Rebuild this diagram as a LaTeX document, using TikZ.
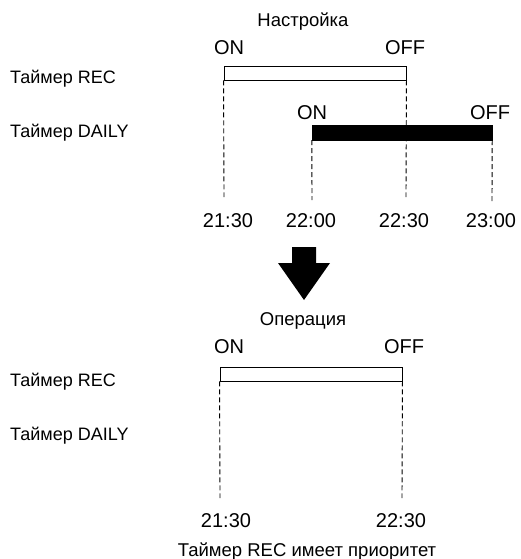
\documentclass[tikz,border=0pt]{standalone}
\usepackage{fontspec}
\setmainfont{Liberation Sans}
\usepackage{xcolor}
\usetikzlibrary{positioning}

\begin{document}
\begin{tikzpicture}[
x=1pt, y=-1pt,
lbl/.style={font=\fontsize{18}{20}\selectfont, inner sep=0pt, anchor=base},
sw/.style={font=\fontsize{20}{22}\selectfont, inner sep=0pt, anchor=base},
ttl/.style={font=\fontsize{18.5}{20}\selectfont, inner sep=0pt, anchor=base},
tm/.style={font=\fontsize{20}{22}\selectfont, inner sep=0pt, anchor=base},
recbar/.style={draw, fill=white, line width=0.9pt, minimum width=182pt, minimum height=14pt, inner sep=0pt},
dailybar/.style={draw, fill=black, minimum width=180pt, minimum height=15pt, inner sep=0pt},
dsh/.style={dash pattern=on 5pt off 3pt, line width=0.9pt}
]
\useasboundingbox (0,0) rectangle (520,559);
% setting
\node[ttl] (set) at (303,27) {Настройка};
\node[sw] (on1) at (229,55) {ON};
\node[sw] (off1) at (405,55) {OFF};
\node[lbl, anchor=base west] (rec1) at (10,84) {Таймер REC};
\node[lbl, anchor=base west] (daily1) at (10,137) {Таймер DAILY};
\node[sw] (on2) at (312,120) {ON};
\node[sw] (off2) at (490,120) {OFF};
\node[tm] (t1) at (228,227) {21:30};
\node[tm] (t2) at (311,227) {22:00};
\node[tm] (t3) at (404,227) {22:30};
\node[tm] (t4) at (491,227) {23:00};
\coordinate (e1) at (224,197);
\coordinate (e2) at (406,197);
\coordinate (e3) at (312,200);
\coordinate (e4) at (492,202);
\node[recbar] (recA) at (315,73) {};
\draw[dsh] (recA.south west) -- (e1);
\draw[dsh] (recA.south east) -- (e2);
\node[dailybar] (dailyA) at (402,132.5) {};
\draw[dsh] (dailyA.south west) -- (e3);
\draw[dsh] (dailyA.south east) -- (e4);
% arrow
\fill (292,247) -- (316,247) -- (316,263) -- (330,263) -- (304,300) -- (278,263) -- (292,263) -- cycle;
% operation
\node[ttl] (op) at (303,325) {Операция};
\node[sw] (on3) at (229,353) {ON};
\node[sw] (off3) at (404,353) {OFF};
\node[lbl, anchor=base west] (rec2) at (10,386) {Таймер REC};
\node[lbl, anchor=base west] (daily2) at (10,440) {Таймер DAILY};
\node[recbar] (recB) at (311,374) {};
\node[tm] (t5) at (226,527) {21:30};
\node[tm] (t6) at (401,527) {22:30};
\coordinate (e5) at (220,498);
\coordinate (e6) at (402,498);
\draw[dsh] (recB.south west) -- (e5);
\draw[dsh] (recB.south east) -- (e6);
\node[ttl] (prio) at (307,556) {Таймер REC имеет приоритет};
\end{tikzpicture}
\end{document}
